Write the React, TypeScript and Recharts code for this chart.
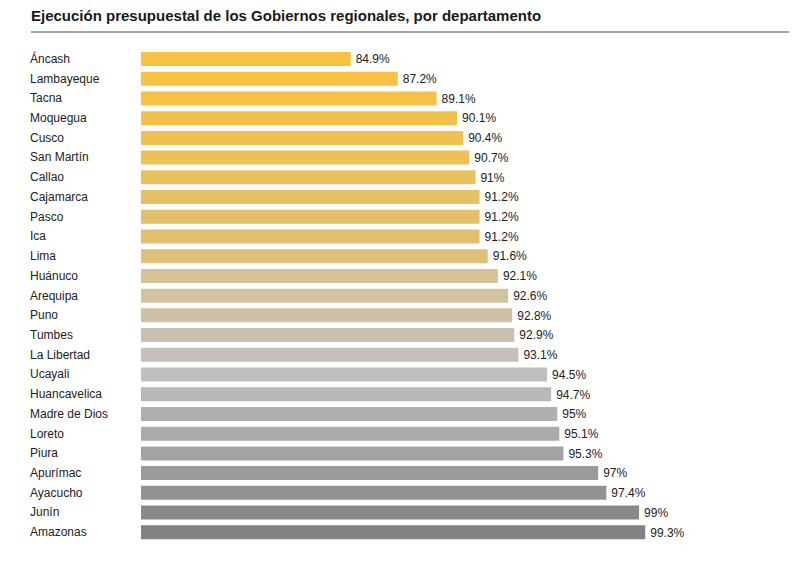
import { BarChart, Bar, XAxis, YAxis, Cell, LabelList } from 'recharts';

const regions = [
  'Áncash', 'Lambayeque', 'Tacna', 'Moquegua', 'Cusco', 'San Martín', 'Callao',
  'Cajamarca', 'Pasco', 'Ica', 'Lima', 'Huánuco', 'Arequipa', 'Puno', 'Tumbes',
  'La Libertad', 'Ucayali', 'Huancavelica', 'Madre de Dios', 'Loreto', 'Piura',
  'Apurímac', 'Ayacucho', 'Junín', 'Amazonas',
];

const execution = [
  84.9, 87.2, 89.1, 90.1, 90.4, 90.7, 91, 91.2, 91.2, 91.2, 91.6, 92.1, 92.6,
  92.8, 92.9, 93.1, 94.5, 94.7, 95, 95.1, 95.3, 97, 97.4, 99, 99.3,
];

const barColors = [
  '#F8C141', '#F7C143', '#F5C146', '#F2C14C', '#EEC152', '#EBC158', '#E8C05E',
  '#E5C064', '#E2C06A', '#E0C070', '#DEC078', '#D6C398', '#D1C2A0', '#CDC2A8',
  '#C9C2B2', '#C5C1BA', '#C0BFC0', '#B8B8B8', '#B0B0B0', '#AAAAAA', '#A3A3A3',
  '#9A9A9A', '#929292', '#898989', '#828282',
];

const data = regions.map((name, i) => ({ name, value: execution[i] }));

const font = 'Arial, "Liberation Sans", Helvetica, sans-serif';

function RegionTick({ y, payload }: any) {
  return (
    <text x={30} y={y} dy={4} textAnchor="start" fontSize={12} fill="#222" fontFamily={font}>
      {payload.value}
    </text>
  );
}

export default function App() {
  return (
    <div style={{ position: 'relative', width: 810, height: 561, margin: '-8px 0 0 -8px', background: '#fff' }}>
      <div
        style={{
          position: 'absolute', left: 31, top: 7, fontFamily: font, fontWeight: 700,
          fontSize: 15, color: '#1a1a1a', whiteSpace: 'nowrap',
        }}
      >
        Ejecución presupuestal de los Gobiernos regionales, por departamento
      </div>
      <div style={{ position: 'absolute', left: 31, top: 31, width: 758, height: 2, background: '#a6a6a6' }} />
      <div style={{ position: 'absolute', left: 0, top: 0 }}>
        <BarChart
          width={810}
          height={561}
          layout="vertical"
          data={data}
          margin={{ top: 49, right: 130, bottom: 19, left: 0 }}
        >
          <XAxis type="number" domain={[74.65, 101]} hide allowDataOverflow />
          <YAxis
            type="category"
            dataKey="name"
            width={141}
            axisLine={false}
            tickLine={false}
            interval={0}
            tick={<RegionTick />}
          />
          <Bar dataKey="value" barSize={14} isAnimationActive={false}>
            {data.map((d, i) => (
              <Cell key={d.name} fill={barColors[i]} />
            ))}
            <LabelList
              dataKey="value"
              position="right"
              offset={5}
              formatter={(v: any) => `${v}%`}
              style={{ fontSize: 12, fill: '#222', fontFamily: font }}
            />
          </Bar>
        </BarChart>
      </div>
    </div>
  );
}
